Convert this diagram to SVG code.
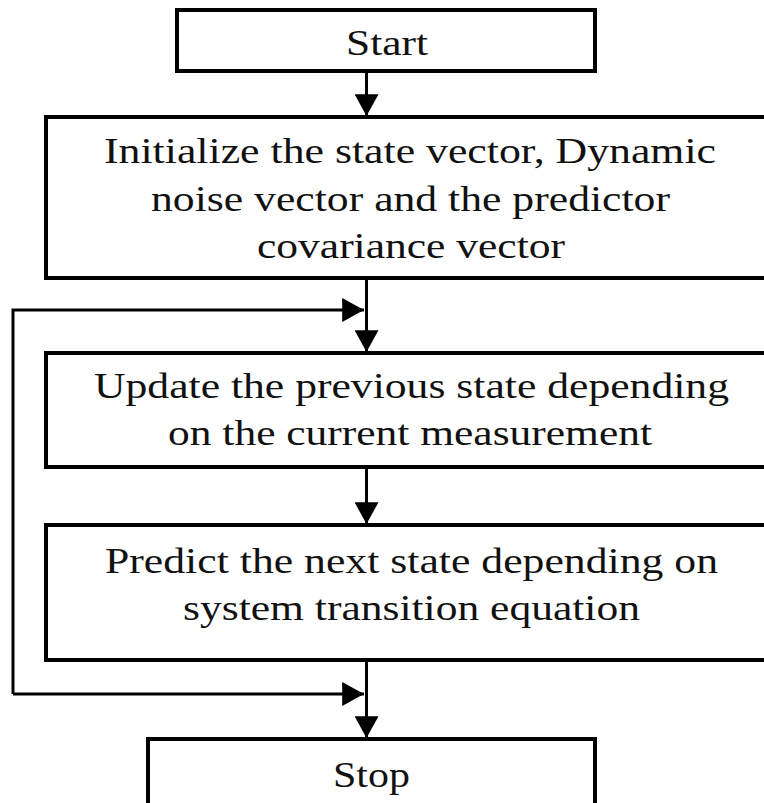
<svg xmlns="http://www.w3.org/2000/svg" width="764" height="803" viewBox="0 0 764 803">
<style>
.box{fill:#fff;stroke:#000;stroke-width:4}
.t{font-family:"Liberation Serif","Times New Roman",serif;font-size:36px;fill:#111;text-anchor:start}
.c{fill:none;stroke:#000;stroke-width:3}
</style>
<defs>
<marker id="ah" markerUnits="userSpaceOnUse" markerWidth="22" markerHeight="24" refX="20" refY="11" orient="auto" viewBox="0 0 20 22">
<path d="M0,0 L20,11 L0,22 z" fill="#000"/>
</marker>
</defs>
<rect width="764" height="803" fill="#fff"/>
<g id="connectors">
<line class="c" x1="366.5" y1="71" x2="366.5" y2="116" marker-end="url(#ah)"/>
<line class="c" x1="366.5" y1="278" x2="366.5" y2="352" marker-end="url(#ah)"/>
<line class="c" x1="366.5" y1="467" x2="366.5" y2="524" marker-end="url(#ah)"/>
<line class="c" x1="366.5" y1="660" x2="366.5" y2="738" marker-end="url(#ah)"/>
<path class="c" d="M13,694 V310 H364" marker-end="url(#ah)"/>
<path class="c" d="M13,694 H364" marker-end="url(#ah)"/>
</g>
<g id="start">
<rect class="box" x="177" y="10" width="418" height="61"/>
<text class="t" x="346" y="55" textLength="82" lengthAdjust="spacingAndGlyphs">Start</text>
</g>
<g id="init">
<rect class="box" x="46" y="117" width="740" height="161"/>
<text class="t" x="104" y="163" textLength="612" lengthAdjust="spacingAndGlyphs">Initialize the state vector, Dynamic</text>
<text class="t" x="151" y="211" textLength="519" lengthAdjust="spacingAndGlyphs">noise vector and the predictor</text>
<text class="t" x="257" y="258" textLength="308" lengthAdjust="spacingAndGlyphs">covariance vector</text>
</g>
<g id="update">
<rect class="box" x="46" y="353" width="740" height="114"/>
<text class="t" x="94" y="398" textLength="635" lengthAdjust="spacingAndGlyphs">Update the previous state depending</text>
<text class="t" x="168" y="445" textLength="484" lengthAdjust="spacingAndGlyphs">on the current measurement</text>
</g>
<g id="predict">
<rect class="box" x="46" y="525" width="740" height="135"/>
<text class="t" x="105" y="573" textLength="613" lengthAdjust="spacingAndGlyphs">Predict the next state depending on</text>
<text class="t" x="183" y="620" textLength="457" lengthAdjust="spacingAndGlyphs">system transition equation</text>
</g>
<g id="stop">
<rect class="box" x="148" y="739" width="447" height="80"/>
<text class="t" x="333" y="787" textLength="77" lengthAdjust="spacingAndGlyphs">Stop</text>
</g>
</svg>
